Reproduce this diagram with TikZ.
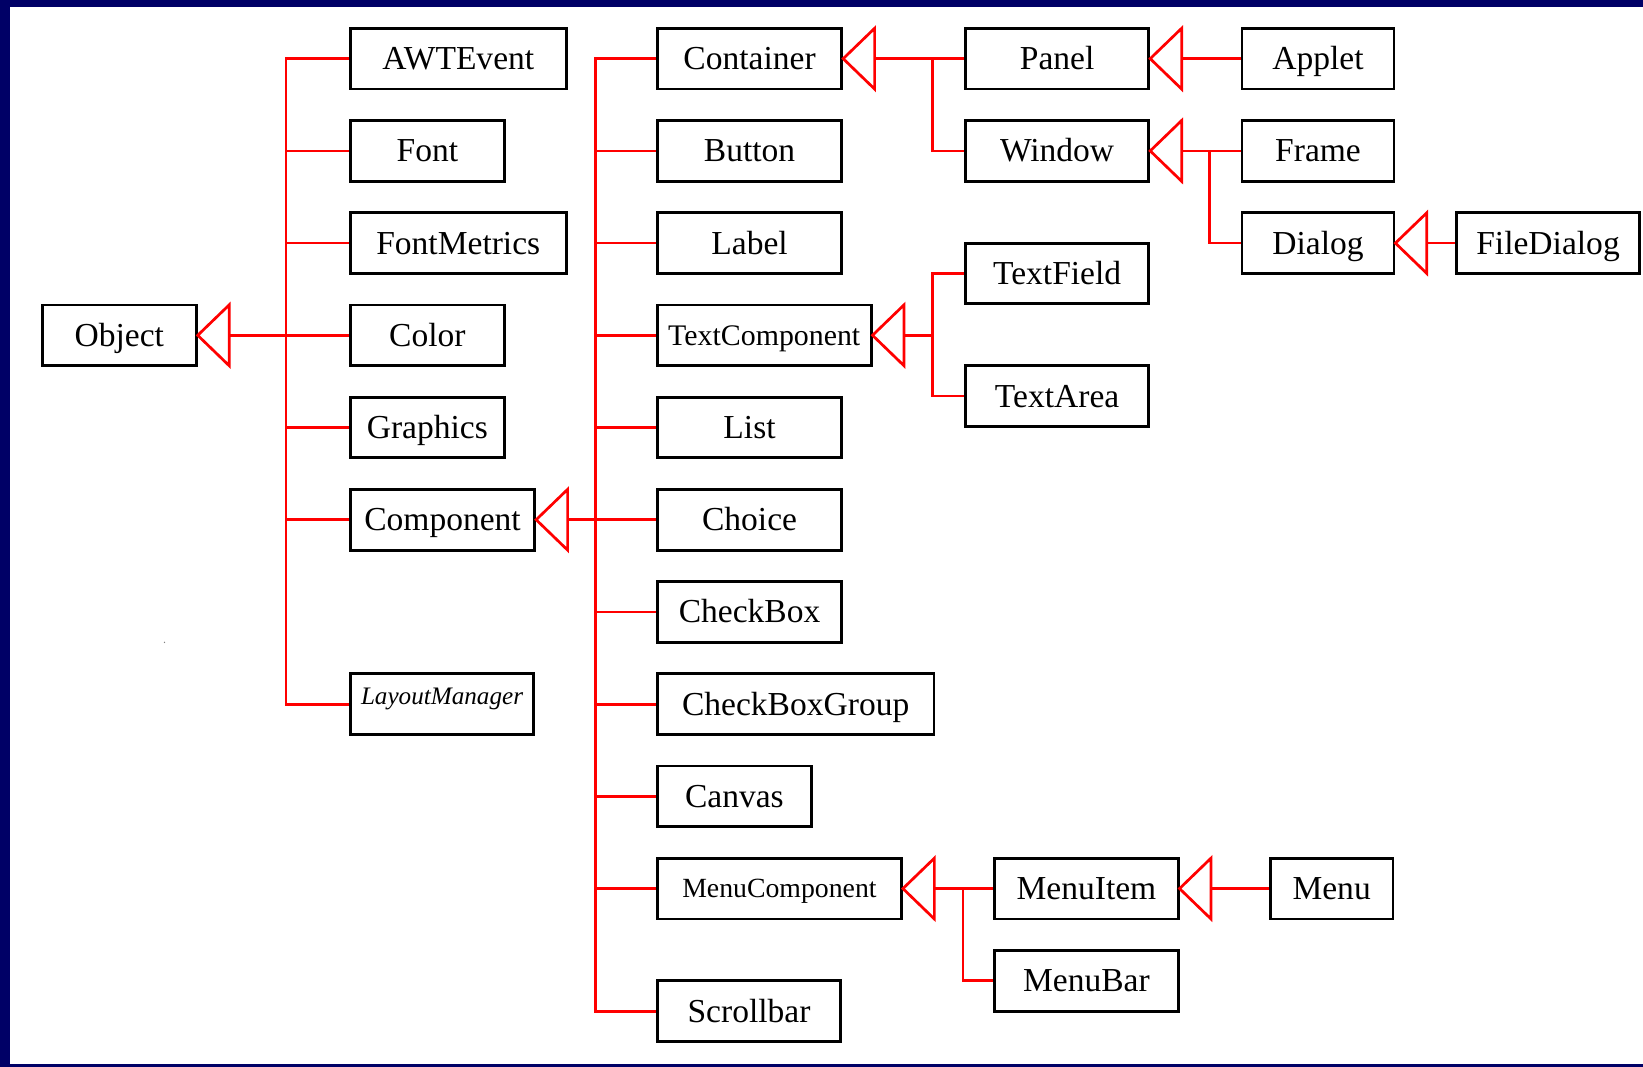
\documentclass[tikz,border=0pt]{standalone}
\usepackage{fontspec}
\setmainfont{Liberation Serif}
\usetikzlibrary{calc}
\definecolor{navyframe}{RGB}{0,0,102}
\newcommand\inhtri[1]{\draw[tri] (#1.east) -- ++(30,-29) -- ++(0,58) -- cycle;}
\begin{document}
\begin{tikzpicture}[x=1pt,y=-1pt,
  box/.style={draw=black, line width=2.7pt, fill=white, inner sep=0pt,
    minimum height=58pt, anchor=west, text height=21pt, text depth=0pt,
    font=\fontsize{32}{38}\selectfont},
  smallbox/.style={box, text height=18.5pt, font=\fontsize{28.5}{34}\selectfont},
  conn/.style={draw=red, line width=2.6pt},
  tri/.style={draw=red, line width=2.6pt, fill=white, line join=miter}]
\useasboundingbox (0,0) rectangle (1568,1018);
\fill[navyframe] (0,0) rectangle (1568,1018);
\fill[white] (9.5,6.7) rectangle (1568,1015.5);
\fill[gray] (157,613) circle (0.7);

% column 1
\node[box, minimum width=147pt] (Object) at (39,320) {Object};
% column 2
\node[box, minimum width=206pt] (AWTEvent) at (333,56) {AWTEvent};
\node[box, minimum width=147pt] (Font) at (333,144) {Font};
\node[box, minimum width=206pt] (FontMetrics) at (333,232) {FontMetrics};
\node[box, minimum width=147pt] (Color) at (333,320) {Color};
\node[box, minimum width=147pt] (Graphics) at (333,408) {Graphics};
\node[box, minimum width=176pt] (Component) at (333,496) {Component};
\node[box, minimum width=175pt, text height=8pt, text depth=8pt,
  font=\fontsize{24}{28}\selectfont\itshape] (LayoutManager) at (333,672) {LayoutManager};
% column 3
\node[box, minimum width=176pt] (Container) at (626,56) {Container};
\node[box, minimum width=176pt] (Button) at (626,144) {Button};
\node[box, minimum width=176pt] (Label) at (626,232) {Label};
\node[smallbox, minimum width=204pt] (TextComponent) at (626,320) {TextComponent};
\node[box, minimum width=176pt] (List) at (626,408) {List};
\node[box, minimum width=176pt] (Choice) at (626,496) {Choice};
\node[box, minimum width=176pt] (CheckBox) at (626,584) {CheckBox};
\node[box, minimum width=264pt] (CheckBoxGroup) at (626,672) {CheckBoxGroup};
\node[box, minimum width=147pt] (Canvas) at (626,760) {Canvas};
\node[box, minimum width=233pt, text height=17.5pt, font=\fontsize{26.5}{32}\selectfont] (MenuComponent) at (626,848) {MenuComponent};
\node[box, minimum width=175pt] (Scrollbar) at (626,965) {Scrollbar};
% column 4
\node[box, minimum width=175pt] (Panel) at (920,56) {Panel};
\node[box, minimum width=175pt] (Window) at (920,144) {Window};
\node[box, minimum width=175pt] (TextField) at (920,261) {TextField};
\node[box, minimum width=175pt] (TextArea) at (920,378) {TextArea};
\node[box, minimum width=175pt] (MenuItem) at (948,848) {MenuItem};
\node[box, minimum width=175pt] (MenuBar) at (948,936) {MenuBar};
% column 5
\node[box, minimum width=145pt] (Applet) at (1184,56) {Applet};
\node[box, minimum width=145pt] (Frame) at (1184,144) {Frame};
\node[box, minimum width=145pt] (Dialog) at (1184,232) {Dialog};
\node[box, minimum width=117pt] (Menu) at (1211,848) {Menu};
\node[box, minimum width=174pt] (FileDialog) at (1389,232) {FileDialog};

% junctions
\coordinate (jA) at (273,320);
\coordinate (jB) at (568,496);
\coordinate (jC) at (890,56);
\coordinate (jD) at (890,320);
\coordinate (jE) at (1154,144);
\coordinate (jF) at (919,848);

% Object
\draw[conn] ($(Object.east)+(30,0)$) -- (Color.west);
\foreach \n in {AWTEvent,Font,FontMetrics,Graphics,Component,LayoutManager}
  \draw[conn] (\n.west) -| (jA);
\inhtri{Object}
% Component
\draw[conn] ($(Component.east)+(30,0)$) -- (Choice.west);
\foreach \n in {Container,Button,Label,TextComponent,List,CheckBox,CheckBoxGroup,Canvas,MenuComponent,Scrollbar}
  \draw[conn] (\n.west) -| (jB);
\inhtri{Component}
% Container
\draw[conn] ($(Container.east)+(30,0)$) -- (Panel.west);
\draw[conn] (Window.west) -| (jC);
\inhtri{Container}
% TextComponent
\draw[conn] ($(TextComponent.east)+(30,0)$) -- (jD);
\draw[conn] (TextField.west) -| (jD);
\draw[conn] (TextArea.west) -| (jD);
\inhtri{TextComponent}
% Panel
\draw[conn] ($(Panel.east)+(30,0)$) -- (Applet.west);
\inhtri{Panel}
% Window
\draw[conn] ($(Window.east)+(30,0)$) -- (Frame.west);
\draw[conn] (Dialog.west) -| (jE);
\inhtri{Window}
% Dialog
\draw[conn] ($(Dialog.east)+(30,0)$) -- (FileDialog.west);
\inhtri{Dialog}
% MenuComponent
\draw[conn] ($(MenuComponent.east)+(30,0)$) -- (MenuItem.west);
\draw[conn] (MenuBar.west) -| (jF);
\inhtri{MenuComponent}
% MenuItem
\draw[conn] ($(MenuItem.east)+(30,0)$) -- (Menu.west);
\inhtri{MenuItem}
\end{tikzpicture}
\end{document}
